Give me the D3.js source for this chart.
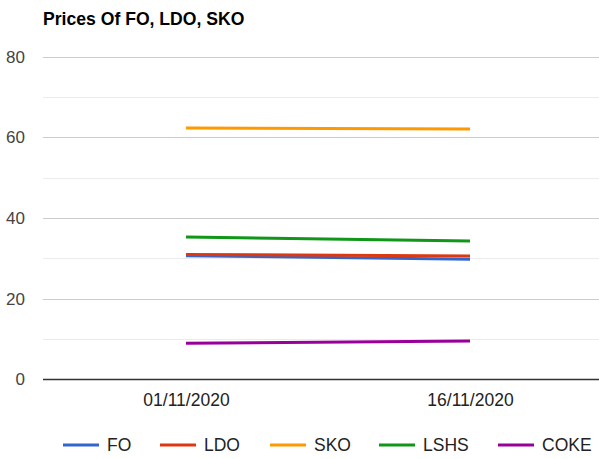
<!DOCTYPE html>
<html><head><meta charset="utf-8">
<script src="https://cdn.jsdelivr.net/npm/d3@7"></script>
<style>body{margin:0;background:#fff;font-family:Arial,"Liberation Sans",sans-serif;}</style>
</head><body><svg id="c" width="599" height="459"></svg>
<script>
const categories = ["01/11/2020", "16/11/2020"];
const seriesNames = ["FO", "LDO", "SKO", "LSHS", "COKE"];
const FO = [30.7, 29.8];
const LDO = [31.0, 30.6];
const SKO = [62.3, 62.1];
const LSHS = [35.3, 34.3];
const COKE = [9.0, 9.55];
const yTicks = [0, 20, 40, 60, 80];
const yMinor = [10, 30, 50, 70];
const colors = ["#3366cc", "#dc3912", "#ff9900", "#109618", "#990099"];
const series = [FO, LDO, SKO, LSHS, COKE];

const FONT = "Arial,'Liberation Sans',sans-serif";
const svg = d3.select("#c");
const pLeft = 44, pRight = 612, pTop = 56.7, pBottom = 379.5;
const x = d3.scalePoint().domain(categories).range([pLeft, pRight]).padding(0.5);
const y = d3.scaleLinear().domain([0, 80]).range([pBottom, pTop]);

svg.append("text").attr("x", 43).attr("y", 25).attr("font-size", 17.6).attr("font-weight", "bold")
  .attr("font-family", FONT).attr("fill", "#000").text("Prices Of FO, LDO, SKO");

svg.append("g").selectAll("line").data(yMinor).join("line")
  .attr("x1", pLeft - 1).attr("x2", pRight).attr("y1", d => Math.round(y(d)) + 0.5).attr("y2", d => Math.round(y(d)) + 0.5)
  .attr("stroke", "#ebebeb");
svg.append("g").selectAll("line").data(yTicks.filter(d => d !== 0)).join("line")
  .attr("x1", pLeft - 1).attr("x2", pRight).attr("y1", d => Math.round(y(d)) + 0.5).attr("y2", d => Math.round(y(d)) + 0.5)
  .attr("stroke", "#cccccc");

const yAxis = d3.axisLeft(y).tickValues(yTicks).tickSize(0).tickPadding(0);
const ga = svg.append("g").attr("transform", `translate(${25},0)`).call(yAxis);
ga.select(".domain").remove();
ga.selectAll("text").attr("font-size", 17).attr("fill", "#444").attr("font-family", FONT);

const xAxis = d3.axisBottom(x).tickSize(0).tickPadding(0);
const gx = svg.append("g").attr("transform", `translate(0,${pBottom})`).call(xAxis);
gx.select(".domain").remove();
gx.selectAll("text").attr("font-size", 17.5).attr("fill", "#222").attr("dy", 0).attr("y", 26.5)
  .attr("font-family", FONT);

const line = d3.line().x((d, i) => x(categories[i])).y(d => y(d));
svg.append("g").selectAll("path").data(series).join("path")
  .attr("d", d => line(d)).attr("fill", "none").attr("stroke", (d, i) => colors[i]).attr("stroke-width", 3);

svg.append("line").attr("x1", pLeft - 1).attr("x2", pRight).attr("y1", pBottom).attr("y2", pBottom)
  .attr("stroke", "#333").attr("stroke-width", 1.5);

const legX = [63, 160, 270, 379, 498];
const lg = svg.append("g").selectAll("g").data(seriesNames).join("g")
  .attr("transform", (d, i) => `translate(${legX[i]},445)`);
lg.append("line").attr("x1", 0).attr("x2", 36).attr("y1", 0).attr("y2", 0)
  .attr("stroke", (d, i) => colors[i]).attr("stroke-width", 3);
lg.append("text").attr("x", 44).attr("y", 6.3).attr("font-size", 17.5).attr("font-family", FONT)
  .attr("fill", "#222").text(d => d);
</script></body></html>
